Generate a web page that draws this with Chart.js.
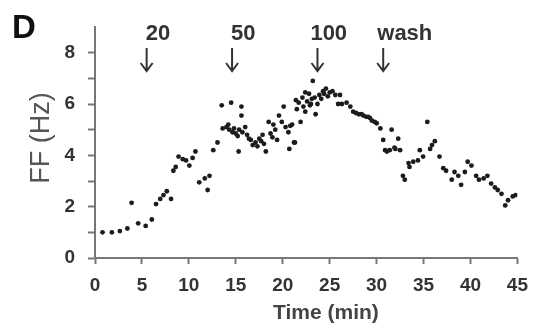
<!DOCTYPE html>
<html>
<head>
<meta charset="utf-8">
<script src="https://cdn.jsdelivr.net/npm/chart.js@4"></script>
<style>
  html, body { margin: 0; padding: 0; background: #fff; }
  canvas { display: block; }
</style>
</head>
<body>
<canvas id="ffChart" width="538" height="331"></canvas>
<script>
// time (min) and firing frequency (Hz)
const timeMin = [
  0.8, 1.8, 2.65, 3.45, 3.9, 4.6, 5.4, 6.05, 6.5, 6.95, 7.3, 7.65, 8.1, 8.35, 8.6, 8.9,
  9.35, 9.7, 10.05, 10.4, 10.7, 11.1, 11.7, 12.0, 12.2, 12.6, 13.05,
  13.5, 14.5, 15.6, 15.6, 13.6, 14.0, 14.3, 14.65, 15.0, 15.35, 15.7, 16.0, 15.3,
  14.2, 14.8, 15.2, 16.2, 16.6, 17.3, 17.7, 18.0, 18.9, 19.4, 19.0,
  16.4, 16.8, 17.1, 17.5, 17.85, 18.2, 18.5, 18.7, 19.2, 19.6, 20.1, 19.9, 20.3, 20.6,
  20.7, 21.0, 21.3, 21.4, 20.8, 21.2, 21.7, 21.9, 22.1, 22.2, 22.4, 22.4, 22.8, 22.9,
  23.1, 23.2, 23.4, 23.5, 23.9, 24.3, 24.6, 25.0, 22.6, 23.7, 24.1, 24.8, 25.3, 25.6,
  21.5, 23.0, 24.4,
  25.9, 26.1, 26.3, 26.8, 27.2, 27.5, 27.8, 28.1, 28.4, 28.6, 28.9, 29.1, 29.3, 29.5,
  29.8, 30.0, 30.4, 30.7, 30.9, 31.1, 31.4, 31.6, 31.9, 32.0, 32.3, 32.5, 32.8, 33.0,
  33.4, 33.5, 33.9, 34.4, 34.6, 34.95, 35.4, 35.7, 35.9, 36.2, 36.7, 37.1, 37.4, 38.0,
  38.3, 38.7, 39.0, 39.4, 39.7, 40.1, 40.6, 40.9, 41.4, 41.8, 42.2, 42.6, 42.9, 43.3,
  43.7, 44.0, 44.5, 44.8
];
const ffHz = [
  1.0, 1.0, 1.05, 1.15, 2.15, 1.35, 1.25, 1.5, 2.1, 2.3, 2.45, 2.6, 2.3, 3.4, 3.55, 3.95,
  3.85, 3.8, 3.6, 3.9, 4.15, 2.95, 3.1, 2.65, 3.2, 4.2, 4.5,
  5.95, 6.05, 5.9, 5.55, 5.05, 5.1, 5.0, 4.9, 4.85, 5.0, 4.9, 5.1, 4.15,
  5.2, 5.05, 4.75, 4.8, 4.6, 4.35, 4.55, 4.45, 4.7, 4.6, 5.2,
  4.65, 4.4, 4.5, 4.65, 4.8, 4.15, 5.3, 4.85, 5.0, 5.55, 5.9, 5.3, 5.1, 4.9,
  4.25, 5.2, 4.5, 6.15, 5.15, 4.5, 6.05, 5.3, 6.25, 5.9, 6.45, 5.7, 6.4, 5.95,
  6.2, 6.9, 6.25, 5.6, 6.35, 6.5, 6.6, 6.45, 6.1, 6.0, 6.2, 6.3, 6.5, 6.35,
  5.8, 6.0, 6.4,
  6.0, 6.35, 6.0, 6.05, 5.9, 5.7, 5.65, 5.6, 5.6, 5.55, 5.5, 5.5, 5.45, 5.35,
  5.3, 5.25, 5.05, 4.6, 4.2, 4.15, 4.2, 5.0, 4.3, 4.25, 4.65, 4.2, 3.2, 3.05,
  3.7, 3.55, 3.75, 3.8, 4.2, 3.95, 5.3, 4.25, 4.4, 4.55, 3.95, 3.5, 3.4, 3.05,
  3.35, 3.2, 2.85, 3.35, 3.75, 3.6, 3.2, 3.05, 3.1, 3.2, 2.9, 2.75, 2.65, 2.5,
  2.05, 2.25, 2.4, 2.45
];

// drug additions marked with arrows
const markerLabels = ['20', '50', '100', 'wash'];
const markerTimes = [5.5, 14.6, 23.7, 30.7];
const markerTextTimes = [6.7, 15.8, 24.9, 33.0];

const xTicks = [0, 5, 10, 15, 20, 25, 30, 35, 40, 45];
const yTicks = [0, 1, 2, 3, 4, 5, 6, 7, 8];

const FONT = '"Liberation Sans", Arial, sans-serif';

const points = timeMin.map((t, i) => ({ x: t, y: ffHz[i] }));

const textPlugin = {
  id: 'figureText',
  afterDraw(chart) {
    const ctx = chart.ctx;
    const xs = chart.scales.x;
    ctx.save();

    // panel letter
    ctx.fillStyle = '#111';
    ctx.font = 'bold 33px ' + FONT;
    ctx.textAlign = 'left';
    ctx.textBaseline = 'alphabetic';
    ctx.fillText('D', 12, 38);

    // y title
    ctx.save();
    ctx.translate(42, 138);
    ctx.rotate(-Math.PI / 2);
    ctx.fillStyle = '#555';
    ctx.font = '27px ' + FONT;
    ctx.textAlign = 'center';
    ctx.textBaseline = 'middle';
    ctx.fillText('FF (Hz)', 0, 0);
    ctx.restore();

    // x title
    ctx.fillStyle = '#444';
    ctx.font = 'bold 21px ' + FONT;
    ctx.textAlign = 'center';
    ctx.textBaseline = 'middle';
    ctx.fillText('Time (min)', xs.getPixelForValue(24.6), 313);

    // arrows + labels
    ctx.strokeStyle = '#333';
    ctx.lineWidth = 2;
    markerLabels.forEach((lab, i) => {
      const ax = xs.getPixelForValue(markerTimes[i]);
      ctx.beginPath();
      ctx.moveTo(ax, 48);
      ctx.lineTo(ax, 71);
      ctx.moveTo(ax - 6, 63);
      ctx.lineTo(ax, 71);
      ctx.lineTo(ax + 6, 63);
      ctx.stroke();
      ctx.fillStyle = '#333';
      ctx.font = 'bold 22px ' + FONT;
      ctx.textAlign = 'center';
      ctx.textBaseline = 'alphabetic';
      ctx.fillText(lab, xs.getPixelForValue(markerTextTimes[i]), 40);
    });
    ctx.restore();
  }
};

new Chart(document.getElementById('ffChart'), {
  type: 'scatter',
  data: {
    datasets: [{
      data: points,
      backgroundColor: '#1c1c1c',
      borderWidth: 0,
      pointRadius: 2.4
    }]
  },
  options: {
    responsive: false,
    devicePixelRatio: 1,
    animation: false,
    layout: { padding: { top: 27, right: 17, left: 0, bottom: 0 } },
    plugins: { legend: { display: false }, tooltip: { enabled: false } },
    scales: {
      x: {
        type: 'linear',
        min: 0,
        max: 45,
        afterBuildTicks: s => { s.ticks = xTicks.map(v => ({ value: v })); },
        afterFit: s => { s.height = 73; },
        ticks: {
          color: '#333',
          font: { family: FONT, size: 19, weight: 'bold' },
          padding: 10,
          maxRotation: 0
        },
        grid: { drawOnChartArea: false, tickLength: 6, tickColor: '#777', tickWidth: 2 },
        border: { color: '#777', width: 2 }
      },
      y: {
        min: 0,
        max: 9,
        afterBuildTicks: s => { s.ticks = yTicks.map(v => ({ value: v })); },
        afterFit: s => { s.width = 95; },
        ticks: {
          color: '#333',
          font: { family: FONT, size: 19, weight: 'bold' },
          padding: 13,
          callback: v => (v % 2 === 0 ? v : '')
        },
        grid: { drawOnChartArea: false, tickLength: 7, tickColor: '#777', tickWidth: 2 },
        border: { color: '#777', width: 2 }
      }
    }
  },
  plugins: [textPlugin]
});
</script>
</body>
</html>
